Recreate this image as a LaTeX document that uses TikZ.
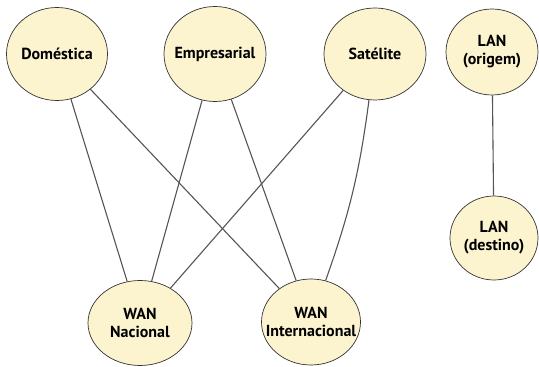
\documentclass[tikz,border=0pt]{standalone}
\usepackage{fontspec}
\setmainfont{PT Sans}
\usetikzlibrary{shapes.geometric}
\definecolor{nodefill}{RGB}{252,243,207}
\definecolor{edgecol}{RGB}{85,85,85}
\tikzset{
  netnode/.style={ellipse, draw=black!80, line width=0.7pt, fill=nodefill, inner xsep=-25pt, inner ysep=0pt,
    minimum width=#1, align=center, font=\fontsize{16}{18}\selectfont\bfseries},
  link/.style={draw=edgecol, line width=1.1pt}
}
\begin{document}
\begin{tikzpicture}[x=1pt,y=1pt]
\useasboundingbox (0,0) rectangle (539,367);
\node[netnode=101pt, minimum height=93pt] (dom) at (57,313) {Doméstica};
\node[netnode=102pt, minimum height=95pt] (emp) at (215,313) {Empresarial};
\node[netnode=102pt, minimum height=92pt] (sat) at (375,313) {Satélite};
\node[netnode=92pt, minimum height=86pt] (lano) at (492,315) {LAN\\(origem)};
\node[netnode=88pt, minimum height=84pt] (land) at (494,129) {LAN\\(destino)};
\node[netnode=104pt, minimum height=85pt] (wann) at (140,44) {WAN\\Nacional};
\node[netnode=99pt, minimum height=86pt] (wani) at (311,45) {WAN\\Internacional};
\draw[link] (dom) -- (wann);
\draw[link] (dom) -- (wani);
\draw[link] (emp) -- (wann);
\draw[link] (emp) -- (wani);
\draw[link] (sat) -- (wann);
\draw[link] (sat) to[bend left=6] (wani);
\draw[link] (lano) -- (land);
\end{tikzpicture}
\end{document}
